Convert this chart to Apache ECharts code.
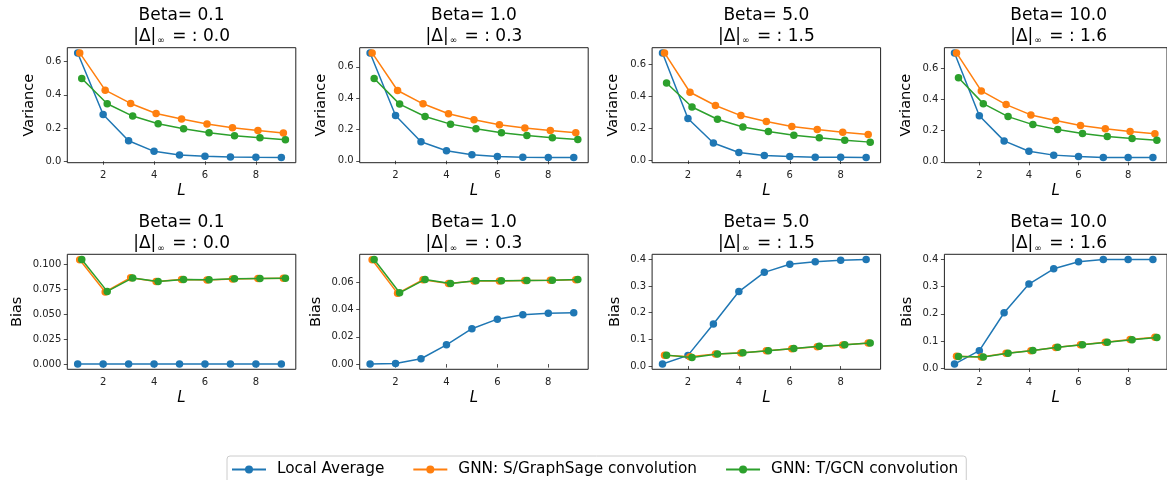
<!DOCTYPE html>
<html>
<head>
<meta charset="utf-8">
<script src="https://cdn.jsdelivr.net/npm/echarts@6/dist/echarts.min.js"></script>
<style>
html, body { margin: 0; background: #fff; }
#chart { width: 1167px; height: 480px; }
</style>
</head>
<body>
<div id="chart"></div>
<script>
const L = [1, 2, 3, 4, 5, 6, 7, 8, 9]
// the three methods are plotted slightly shifted in L so they don't hide each other
const xShift = [0, 0.08, 0.16]
const names = ['Local Average', 'GNN: S/GraphSage convolution', 'GNN: T/GCN convolution']
const colors = ['#1f77b4', '#ff7f0e', '#2ca02c']
const betas = ['0.1', '1.0', '5.0', '10.0']
const deltas = ['0.0', '0.3', '1.5', '1.6']

// variance
const varBeta01Local = [0.652, 0.282, 0.124, 0.060, 0.038, 0.030, 0.026, 0.024, 0.023]
const varBeta01Sage = [0.652, 0.428, 0.348, 0.288, 0.254, 0.224, 0.202, 0.186, 0.170]
const varBeta01Gcn = [0.498, 0.346, 0.272, 0.226, 0.196, 0.172, 0.154, 0.142, 0.130]
const varBeta1Local = [0.689, 0.289, 0.121, 0.064, 0.038, 0.028, 0.023, 0.021, 0.021]
const varBeta1Sage = [0.689, 0.449, 0.364, 0.300, 0.262, 0.230, 0.209, 0.194, 0.179]
const varBeta1Gcn = [0.526, 0.362, 0.283, 0.234, 0.204, 0.179, 0.162, 0.147, 0.136]
const varBeta5Local = [0.673, 0.263, 0.110, 0.050, 0.031, 0.025, 0.021, 0.021, 0.019]
const varBeta5Sage = [0.673, 0.427, 0.344, 0.281, 0.244, 0.213, 0.194, 0.177, 0.163]
const varBeta5Gcn = [0.485, 0.335, 0.258, 0.210, 0.181, 0.158, 0.142, 0.127, 0.115]
const varBeta10Local = [0.696, 0.294, 0.134, 0.068, 0.043, 0.034, 0.028, 0.028, 0.028]
const varBeta10Sage = [0.696, 0.453, 0.366, 0.300, 0.264, 0.232, 0.211, 0.194, 0.179]
const varBeta10Gcn = [0.538, 0.372, 0.289, 0.238, 0.206, 0.181, 0.162, 0.149, 0.138]

// bias
const biasBeta01Local = [0, 0, 0, 0, 0, 0, 0, 0, 0]
const biasBeta01Sage = [0.1045, 0.0722, 0.0865, 0.0826, 0.0846, 0.0843, 0.0852, 0.0856, 0.0859]
const biasBeta01Gcn = [0.1047, 0.0728, 0.0863, 0.0827, 0.0847, 0.0845, 0.0854, 0.0857, 0.0860]
const biasBeta1Local = [0.0000, 0.0005, 0.0039, 0.0141, 0.0259, 0.0329, 0.0361, 0.0373, 0.0376]
const biasBeta1Sage = [0.0764, 0.0518, 0.0618, 0.0591, 0.0608, 0.0608, 0.0612, 0.0614, 0.0618]
const biasBeta1Gcn = [0.0766, 0.0522, 0.0620, 0.0590, 0.0610, 0.0610, 0.0613, 0.0615, 0.0619]
const biasBeta5Local = [0.0075, 0.040, 0.1575, 0.279, 0.351, 0.381, 0.391, 0.396, 0.399]
const biasBeta5Sage = [0.041, 0.035, 0.045, 0.049, 0.0575, 0.065, 0.0725, 0.079, 0.086]
const biasBeta5Gcn = [0.041, 0.0325, 0.045, 0.050, 0.0575, 0.066, 0.074, 0.080, 0.086]
const biasBeta10Local = [0.016, 0.065, 0.204, 0.309, 0.365, 0.391, 0.399, 0.399, 0.399]
const biasBeta10Sage = [0.045, 0.0415, 0.056, 0.0646, 0.077, 0.0866, 0.096, 0.106, 0.1146]
const biasBeta10Gcn = [0.044, 0.0415, 0.056, 0.066, 0.078, 0.0866, 0.096, 0.105, 0.113]

const xTicks = [2, 4, 6, 8]
const varTicks = [0, 0.2, 0.4, 0.6]
const biasTicks = [
    [0, 0.025, 0.05, 0.075, 0.1],
    [0, 0.02, 0.04, 0.06],
    [0, 0.1, 0.2, 0.3, 0.4],
    [0, 0.1, 0.2, 0.3, 0.4],
]
const biasDecimals = [3, 2, 1, 1]

const panels = [
    { row: 0, col: 0, name: 'Variance', data: [varBeta01Local, varBeta01Sage, varBeta01Gcn], ticks: varTicks, dec: 1, gap: 31 },
    { row: 0, col: 1, name: 'Variance', data: [varBeta1Local, varBeta1Sage, varBeta1Gcn], ticks: varTicks, dec: 1, gap: 31 },
    { row: 0, col: 2, name: 'Variance', data: [varBeta5Local, varBeta5Sage, varBeta5Gcn], ticks: varTicks, dec: 1, gap: 31 },
    { row: 0, col: 3, name: 'Variance', data: [varBeta10Local, varBeta10Sage, varBeta10Gcn], ticks: varTicks, dec: 1, gap: 31 },
    { row: 1, col: 0, name: 'Bias', data: [biasBeta01Local, biasBeta01Sage, biasBeta01Gcn], ticks: biasTicks[0], dec: biasDecimals[0], gap: 43 },
    { row: 1, col: 1, name: 'Bias', data: [biasBeta1Local, biasBeta1Sage, biasBeta1Gcn], ticks: biasTicks[1], dec: biasDecimals[1], gap: 36 },
    { row: 1, col: 2, name: 'Bias', data: [biasBeta5Local, biasBeta5Sage, biasBeta5Gcn], ticks: biasTicks[2], dec: biasDecimals[2], gap: 29 },
    { row: 1, col: 3, name: 'Bias', data: [biasBeta10Local, biasBeta10Sage, biasBeta10Gcn], ticks: biasTicks[3], dec: biasDecimals[3], gap: 30 },
]

const gridLeft = [67.3, 359.7, 652.1, 944.4]
const gridTop = [47.7, 254.3]
const titleTop = [5.5, 213]
const gridW = 228.5
const gridH = 115
const ink = '#222'

// matplotlib style 5% padding around the data
const xLo = L[0], xHi = L[L.length - 1] + xShift[2]
const xPad = (xHi - xLo) * 0.05

const option = {
    animation: false,
    backgroundColor: '#fff',
    title: [],
    grid: [],
    xAxis: [],
    yAxis: [],
    series: [],
    legend: {
        left: 227,
        top: 456,
        itemWidth: 34,
        itemHeight: 10,
        itemGap: 28,
        padding: [6, 8, 8, 4],
        borderColor: '#ccc',
        borderWidth: 1,
        borderRadius: 3,
        textStyle: { fontFamily: 'DejaVu Sans', fontSize: 15.3, color: '#000', padding: [0, 0, 0, 6] },
        data: names,
    },
}

panels.forEach((p, i) => {
    const all = p.data.flat()
    const lo = Math.min(...all), hi = Math.max(...all)
    const pad = (hi - lo) * 0.05
    const left = gridLeft[p.col]
    const top = gridTop[p.row]

    option.title.push({
        text: 'Beta= ' + betas[p.col],
        subtext: '|Δ|{s|∞} = : ' + deltas[p.col],
        left: left + gridW / 2,
        top: titleTop[p.row],
        textAlign: 'center',
        itemGap: 1,
        padding: 0,
        textStyle: { fontFamily: 'DejaVu Sans', fontSize: 17, fontWeight: 'normal', color: '#000', lineHeight: 20 },
        subtextStyle: {
            fontFamily: 'DejaVu Sans', fontSize: 17, color: '#000', lineHeight: 20,
            rich: { s: { fontFamily: 'DejaVu Sans', fontSize: 9, color: '#000', padding: [9, 2, 0, 1] } },
        },
    })

    option.grid.push({
        left: left, top: top, width: gridW, height: gridH,
        show: true, borderColor: ink, borderWidth: 1, containLabel: false,
    })

    option.xAxis.push({
        type: 'value', gridIndex: i,
        min: xLo - xPad, max: xHi + xPad,
        name: 'L', nameLocation: 'middle', nameGap: 21,
        nameTextStyle: { fontFamily: 'DejaVu Sans', fontSize: 15, fontStyle: 'italic', color: '#000' },
        axisLine: { show: false },
        axisTick: { show: true, customValues: xTicks, length: 3.5, lineStyle: { color: ink, width: 0.8 } },
        axisLabel: { customValues: xTicks, margin: 8, fontFamily: 'DejaVu Sans', fontSize: 10, color: ink },
        splitLine: { show: false },
    })

    option.yAxis.push({
        type: 'value', gridIndex: i,
        min: lo - pad, max: hi + pad,
        name: p.name, nameLocation: 'middle', nameGap: p.gap,
        nameTextStyle: { fontFamily: 'DejaVu Sans', fontSize: 14.5, color: '#000' },
        axisLine: { show: false },
        axisTick: { show: true, customValues: p.ticks, length: 3.5, lineStyle: { color: ink, width: 0.8 } },
        axisLabel: {
            customValues: p.ticks, margin: 6, fontFamily: 'DejaVu Sans', fontSize: 10, color: ink,
            formatter: v => Number(v).toFixed(p.dec),
        },
        splitLine: { show: false },
    })

    p.data.forEach((arr, k) => {
        option.series.push({
            name: names[k],
            type: 'line',
            xAxisIndex: i, yAxisIndex: i,
            data: L.map((x, j) => [x + xShift[k], arr[j]]),
            color: colors[k],
            symbol: 'circle',
            symbolSize: 7.5,
            showSymbol: true,
            lineStyle: { width: 1.5, color: colors[k] },
            itemStyle: { color: colors[k] },
            z: 2 + k,
        })
    })
})

const chart = echarts.init(document.getElementById('chart'), null, { renderer: 'canvas' })
chart.setOption(option)
</script>
</body>
</html>
